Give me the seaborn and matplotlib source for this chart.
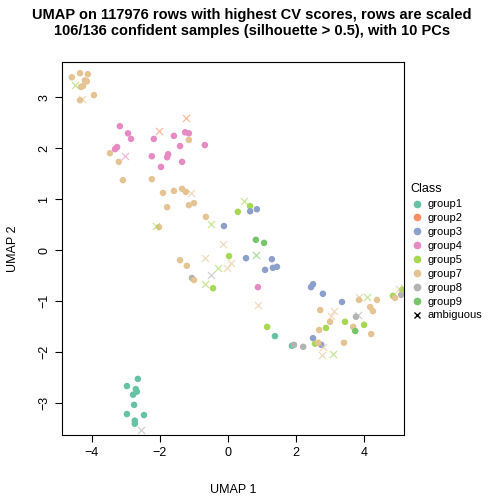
import pandas as pd
import numpy as np
import seaborn as sns
import matplotlib.pyplot as plt
from matplotlib.lines import Line2D

# confident samples
x_conf = [-4.59, -4.35, -4.12, -4.21, -4.15, -4.26, -4.32, -3.94, -4.35,
          -3.18, -2.94, -2.85, -3.26, -3.32, -2.18, -2.24, -1.76, -1.79, -1.97, -1.59, -1.41, -1.26, -1.15, -1.35, -0.68,
          -3.47, -3.21, -3.09, -2.24, -1.15, -1.91, -1.59, -1.35, -1.24, -1.79, -1.15, -1.0, -2.03, -0.65,
          0.29, -0.12, 0.03, 0.65, 0.65, 0.85, 0.82, 1.06,
          -1.06, -1.0, -0.44, 0.53, 1.29, 1.09, 1.32, 1.44, 0.88,
          1.15, 1.38, 1.88, 1.94, 2.21,
          2.44, 2.5, 2.79, 3.35, 2.71, 3.0, 2.68, 2.88, 2.5, 2.56, 2.74, 2.65, 3.41,
          3.44, 3.68, 3.74, 4.0, 4.21, 3.76, 3.85, 4.38, 4.18, 4.26, 4.85, 4.91, 5.09, 5.12,
          -2.65, -2.97, -2.71, -2.68, -2.79, -2.76, -2.97, -2.47, -2.74, -2.74,
          -1.41, -1.21]
y_conf = [3.39, 3.47, 3.45, 3.33, 3.31, 3.22, 3.20, 3.04, 2.94,
          2.43, 2.29, 2.18, 2.02, 1.98, 2.18, 1.84, 1.88, 1.82, 1.63, 2.24, 2.04, 2.31, 2.29, 1.73, 2.06,
          1.90, 1.73, 1.37, 1.39, 2.16, 1.12, 1.16, 1.20, 1.14, 0.84, 0.88, 0.92, 0.45, 0.65,
          0.75, 0.47, -0.12, 0.86, 0.76, 0.80, 0.20, 0.14,
          -0.55, -0.59, -0.75, -0.16, -0.18, -0.39, -0.35, -0.33, -0.73,
          -1.51, -1.69, -1.88, -1.86, -1.90,
          -0.73, -0.67, -0.86, -1.02, -1.18, -1.41, -1.57, -1.53, -1.73, -1.84, -1.86, -1.82, -1.82,
          -1.41, -1.51, -1.59, -1.47, -1.65, -1.31, -0.98, -0.98, -1.12, -1.20, -0.90, -0.94, -0.88, -0.78,
          -2.53, -2.67, -2.73, -2.78, -2.84, -3.04, -3.22, -3.24, -3.35, -3.41,
          -0.20, -0.31]
g_conf = (["group7"] * 9 + ["group4"] * 16 + ["group7"] * 14
          + ["group5", "group3", "group5", "group5", "group3", "group3", "group9", "group9"]
          + ["group8", "group7", "group5", "group3", "group3", "group3", "group3", "group3", "group4"]
          + ["group5", "group1", "group1", "group8", "group8"]
          + ["group3", "group3", "group3", "group3", "group7", "group7", "group7", "group5", "group3", "group5", "group3", "group7", "group7"]
          + ["group5", "group7", "group9", "group5", "group7", "group8", "group7", "group7", "group7", "group7", "group5", "group7", "group8", "group5"]
          + ["group1"] * 10 + ["group7", "group7"])

# ambiguous samples (coloured by best guess)
x_amb = [-4.5, -4.29, -3.03, -1.24, -2.03, -1.09, -2.12, -0.5, -0.15, 0.47,
         -0.68, 0.09, -0.03, -0.29, -0.5, -0.68, 0.82, 0.88,
         3.12, 3.03, 2.79, 2.76, 3.09, 3.82, 3.85, 4.09, 5.18, 5.03, -2.56]
y_amb = [3.24, 2.96, 1.84, 2.59, 2.33, 1.12, 0.47, 0.51, 0.12, 0.96,
         -0.16, -0.25, -0.35, -0.35, -0.49, -0.67, -0.10, -1.08,
         -1.20, -1.29, -1.90, -2.06, -2.04, -1.27, -0.92, -0.92, -0.75, -0.76, -3.53]
g_amb = ["group5", "group7", "group4", "group2", "group2", "group7", "group5", "group5", "group7", "group5",
         "group7", "group7", "group7", "group5", "group8", "group5", "group9", "group7",
         "group7", "group7", "group7", "group7", "group5", "group8", "group7", "group5", "group5", "group7", "group8"]

palette = {"group1": "#66C2A5", "group2": "#FC8D62", "group3": "#8DA0CB", "group4": "#E78AC3",
           "group5": "#A6D854", "group7": "#E5C494", "group8": "#B3B3B3", "group9": "#77C46A"}

conf = pd.DataFrame({"x": x_conf, "y": y_conf, "g": g_conf})
amb = pd.DataFrame({"x": x_amb, "y": y_amb, "g": g_amb})

sns.set_style("white")
plt.rcParams['font.family'] = ['Liberation Sans', 'DejaVu Sans']
plt.rcParams['text.color'] = 'black'
plt.rcParams['xtick.color'] = 'black'
plt.rcParams['ytick.color'] = 'black'
plt.rcParams['axes.labelcolor'] = 'black'

fig = plt.figure(figsize=(5.04, 5.04), dpi=100)
ax = fig.add_axes([0.123, 0.137, 0.679, 0.740])
sns.scatterplot(data=conf, x="x", y="y", hue="g", palette=palette, s=22, linewidth=0, legend=False, ax=ax)
for g, sub in amb.groupby("g"):
    ax.scatter(sub["x"], sub["y"], marker="x", s=26, linewidths=0.9, color=palette[g], alpha=0.6)

ax.set_xlim(-4.88, 5.18)
ax.set_ylim(-3.63, 3.69)
ax.set_xticks([-4, -2, 0, 2, 4])
ax.set_yticks([-3, -2, -1, 0, 1, 2, 3])
for lab in ax.get_yticklabels():
    lab.set_rotation(90)
    lab.set_va("center")
ax.tick_params(direction="out", length=5, width=0.8, labelsize=9, bottom=True, left=True)
for sp in ax.spines.values():
    sp.set_color("black")
    sp.set_linewidth(0.8)
ax.set_xlabel("UMAP 1", fontsize=9, labelpad=18)
ax.set_ylabel("UMAP 2", fontsize=9, labelpad=14)
fig.suptitle("UMAP on 117976 rows with highest CV scores, rows are scaled\n106/136 confident samples (silhouette > 0.5), with 10 PCs",
             fontsize=10.5, fontweight="bold", y=0.985)

handles = [Line2D([], [], marker="o", ls="", color=palette[k], markersize=4.5, label=k) for k in palette]
handles.append(Line2D([], [], marker="x", ls="", color="black", markersize=5, label="ambiguous"))
fig.legend(handles=handles, title="Class", loc="center left", bbox_to_anchor=(0.81, 0.5),
           frameon=False, fontsize=8, title_fontsize=9, handletextpad=0.3, labelspacing=0.35,
           handlelength=1.2, borderaxespad=0, borderpad=0.2, alignment="left")

plt.savefig("out.png", dpi=100)
